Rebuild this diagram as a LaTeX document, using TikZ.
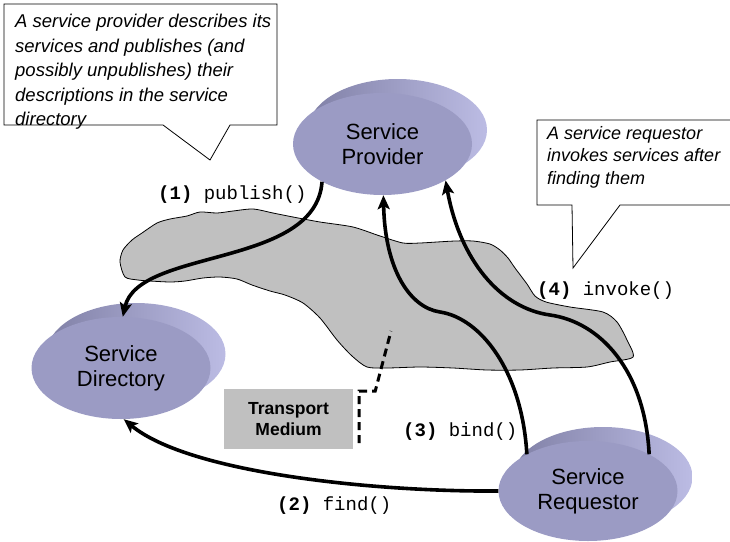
\documentclass[tikz,border=0pt]{standalone}
\usepackage{fontspec}
\setmainfont{Liberation Sans}
\newfontfamily\codefont{Liberation Mono}
\usetikzlibrary{arrows.meta,shadows,shapes.geometric,calc}

\definecolor{discface}{RGB}{155,155,196}
\definecolor{discdark}{RGB}{128,128,166}
\definecolor{disclight}{RGB}{188,188,228}
\definecolor{mediumgray}{RGB}{192,192,192}

\begin{document}
\begin{tikzpicture}[x=1pt,y=-1pt,
  disc/.style={ellipse, minimum width=179pt, minimum height=102pt, inner sep=0pt,
    fill=discface, align=center, font=\fontsize{22}{25}\selectfont,
    general shadow={shadow xshift=15pt, shadow yshift=14pt,
      left color=discdark, right color=disclight}},
  flow/.style={line width=3.6pt, -{Stealth[length=14pt,width=12pt,inset=3pt]}},
  note/.style={draw=black, line width=0.8pt, fill=white, line join=miter},
  notetext/.style={anchor=north west, inner sep=0pt, align=left,
    font=\itshape\fontsize{18.5}{24.5}\selectfont},
  call/.style={anchor=base west, inner sep=0pt, font=\codefont\fontsize{19}{22}\selectfont},
  leader/.style={line width=3pt, dash pattern=on 8pt off 5pt}
]
\useasboundingbox (0,0) rectangle (730,541);

% transport medium cloud
\filldraw[fill=mediumgray, draw=black, line width=0.8pt]
  plot[smooth cycle, tension=0.45] coordinates {
   (120,262) (123,250) (132,240) (142,233) (157,223) (170,219) (187,216) (200,212)
   (217,213) (233,211) (253,209) (273,213) (293,217) (320,222) (353,227) (380,236)
   (403,243) (420,243) (437,242) (455,241) (473,241) (490,244) (500,250) (508,258)
   (515,268) (527,284) (535,296) (546,302) (570,307) (603,312) (617,322) (627,340)
   (633,357) (610,362) (587,367) (553,368) (520,370) (487,370) (453,368) (420,367)
   (387,368) (367,367) (352,356) (337,340) (320,318) (303,303) (285,295) (270,291)
   (252,285) (237,279) (220,277) (203,278) (185,281) (170,282) (150,281) (138,280)
   (125,277)};

% callouts
\draw[note] (4,4) -- (277,4) -- (277,125) -- (230,125) -- (210,160) -- (163,125)
  -- (4,125) -- cycle;
\node[notetext] (providernote) at (15,14)
  {A service provider describes its\\
   services and publishes (and\\
   possibly unpublishes) their\\
   descriptions in the service\\
   directory};

\draw[note] (740,120) -- (537,120) -- (537,205) -- (572,205) -- (573,268)
  -- (620,205) -- (740,205);
\node[notetext, font=\itshape\fontsize{18}{22.5}\selectfont] (requestornote) at (547,126)
  {A service requestor\\
   invokes services after\\
   finding them};

% transport medium label
\node[fill=mediumgray, minimum width=129pt, minimum height=60pt, inner sep=0pt,
  align=center, font=\bfseries\fontsize{17.5}{21}\selectfont] (tm) at (288.5,419)
  {Transport\\Medium};
\coordinate (cloudpt) at (391,331);
\draw[leader] ($(tm.south east)+(6,-6)$) -- ++(0,-52) -- ++(16,0) -- (cloudpt);

% the three parties
\node[disc] (prov) at (382.5,144) {Service\\Provider};
\node[disc] (dir) at (121,368) {Service\\Directory};
\node[disc, minimum height=100pt] (req) at (588,491) {Service\\Requestor};

% interactions
\draw[flow] (prov.212) .. controls (316,268) and (138,248) .. (dir.88);
\draw[flow] (req.180) .. controls (380,492) and (190,474) .. (dir.-87);
\draw[flow] (req.149) .. controls (522,370) and (480,318) .. (440,312)
  .. controls (410,307.5) and (385,270) .. (prov.-89);
\draw[flow] (req.31) .. controls (645,370) and (600,322) .. (550,315)
  .. controls (500,308) and (460,260) .. (prov.-30);

% operation labels
\node[call] (publish) at (158,199) {\textbf{(1)} publish()};
\node[call] (find) at (277,510) {\textbf{(2)} find()};
\node[call] (bind) at (403,436) {\textbf{(3)} bind()};
\node[call] (invoke) at (537,295) {\textbf{(4)} invoke()};
\end{tikzpicture}
\end{document}
